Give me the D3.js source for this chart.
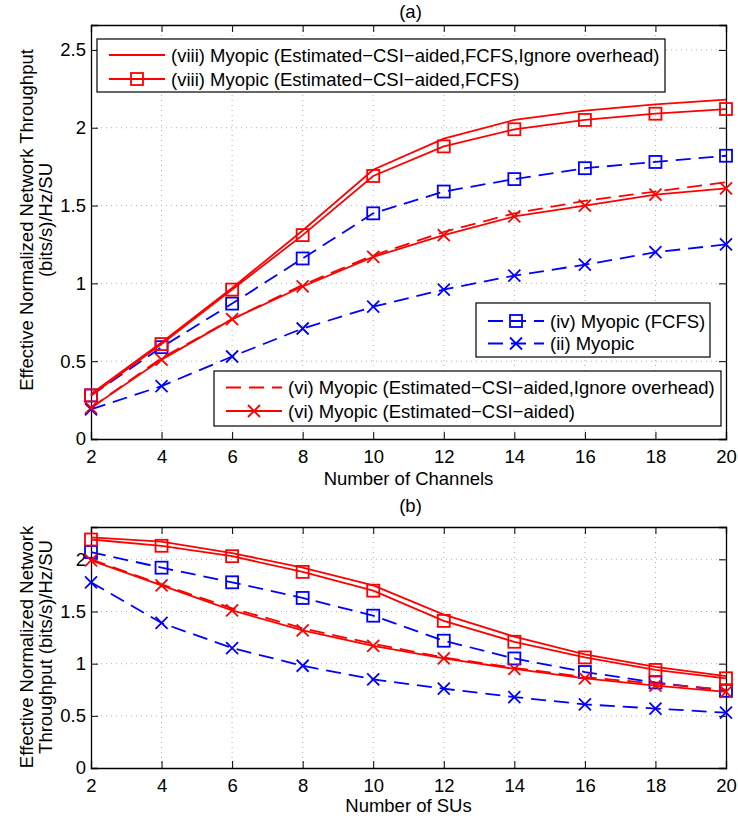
<!DOCTYPE html>
<html><head><meta charset="utf-8">
<script src="https://cdn.jsdelivr.net/npm/d3@7"></script>
<style>
body{margin:0;background:#fff}
text{font-family:"Liberation Sans",Arial,Helvetica,sans-serif;fill:#000}
</style></head>
<body><svg id="c" width="738" height="822"></svg>
<script>
// ---------- data ----------
const channels = [2,4,6,8,10,12,14,16,18,20];
const sus      = [2,4,6,8,10,12,14,16,18,20];
const xTickLabels = [2,4,6,8,10,12,14,16,18,20];
const yTicksA = [0,0.5,1,1.5,2,2.5];
const yTicksB = [0,0.5,1,1.5,2];

// panel (a): vs number of channels
const a_viiiIgnore = [0.29,0.62,0.97,1.34,1.73,1.93,2.05,2.11,2.15,2.18];
const a_viiiFCFS   = [0.28,0.61,0.96,1.31,1.69,1.88,1.99,2.05,2.09,2.12];
const a_ivFCFS     = [0.28,0.59,0.87,1.16,1.45,1.59,1.67,1.74,1.78,1.82];
const a_viIgnore   = [0.20,0.52,0.77,0.99,1.18,1.33,1.45,1.53,1.59,1.65];
const a_vi         = [0.20,0.51,0.77,0.98,1.17,1.31,1.43,1.50,1.57,1.61];
const a_ii         = [0.19,0.34,0.53,0.71,0.85,0.96,1.05,1.12,1.20,1.25];

// panel (b): vs number of SUs
const b_viiiIgnore = [2.21,2.17,2.06,1.92,1.75,1.47,1.26,1.09,0.97,0.88];
const b_viiiFCFS   = [2.19,2.13,2.03,1.88,1.70,1.41,1.21,1.06,0.94,0.86];
const b_ivFCFS     = [2.07,1.92,1.78,1.63,1.46,1.22,1.05,0.92,0.82,0.74];
const b_viIgnore   = [2.00,1.76,1.53,1.34,1.19,1.06,0.96,0.87,0.81,0.75];
const b_vi         = [1.99,1.75,1.51,1.32,1.17,1.05,0.95,0.86,0.79,0.73];
const b_ii         = [1.78,1.39,1.15,0.98,0.85,0.76,0.68,0.61,0.57,0.53];

const names = {
  viiiIgnore: "(viii) Myopic (Estimated\u2212CSI\u2212aided,FCFS,Ignore overhead)",
  viiiFCFS:   "(viii) Myopic (Estimated\u2212CSI\u2212aided,FCFS)",
  ivFCFS:     "(iv) Myopic (FCFS)",
  ii:         "(ii) Myopic",
  viIgnore:   "(vi) Myopic (Estimated\u2212CSI\u2212aided,Ignore overhead)",
  vi:         "(vi) Myopic (Estimated\u2212CSI\u2212aided)"
};

// ---------- styles ----------
const RED = "#ff0000", BLUE = "#0000ff";
const DASH = "15,8";
const FS = 18.5;
const style = {
  ii:         {color:BLUE, dash:DASH, marker:"x"},
  ivFCFS:     {color:BLUE, dash:DASH, marker:"s"},
  viIgnore:   {color:RED,  dash:DASH, marker:null},
  vi:         {color:RED,  dash:null, marker:"x"},
  viiiIgnore: {color:RED,  dash:null, marker:null},
  viiiFCFS:   {color:RED,  dash:null, marker:"s"}
};
const drawOrder = ["ii","ivFCFS","viIgnore","vi","viiiIgnore","viiiFCFS"];

const svg = d3.select("#c");
const X0 = 91, X1 = 726;

function marker(g, type, cx, cy, color){
  if(type==="s"){
    g.append("rect").attr("x",cx-6).attr("y",cy-6).attr("width",12).attr("height",12)
     .attr("fill","none").attr("stroke",color).attr("stroke-width",1.8);
  } else if(type==="x"){
    const r=6;
    g.append("path").attr("d",`M${cx-r},${cy-r}L${cx+r},${cy+r}M${cx-r},${cy+r}L${cx+r},${cy-r}`)
     .attr("stroke",color).attr("stroke-width",1.8).attr("fill","none");
  }
}

function panel(cfg){
  const x = d3.scaleLinear().domain([2,20]).range([X0,X1]);
  const y = d3.scaleLinear().domain([0,cfg.yMax]).range([cfg.yBottom,cfg.yTop]);
  const g = svg.append("g");

  // grid
  const grid = g.append("g").attr("stroke","#b0b0b0").attr("stroke-width",1).attr("stroke-dasharray","1,4");
  xTickLabels.slice(1,-1).forEach(v=>{
    grid.append("line").attr("x1",x(v)).attr("x2",x(v)).attr("y1",cfg.yTop).attr("y2",cfg.yBottom);
  });
  cfg.yTicks.slice(1).forEach(v=>{
    grid.append("line").attr("x1",X0).attr("x2",X1).attr("y1",y(v)).attr("y2",y(v));
  });

  // axes (box with inward ticks)
  const axB = d3.axisBottom(x).tickValues(xTickLabels).tickSize(-7).tickPadding(11).tickFormat(d3.format("d"));
  const axT = d3.axisTop(x).tickValues(xTickLabels).tickSize(-7).tickFormat("");
  const axL = d3.axisLeft(y).tickValues(cfg.yTicks).tickSize(-7).tickPadding(5).tickFormat(d=>d);
  const axR = d3.axisRight(y).tickValues(cfg.yTicks).tickSize(-7).tickFormat("");
  const styleAxis = sel=>{
    sel.select(".domain").attr("stroke","#000").attr("stroke-width",1.3);
    sel.selectAll(".tick line").attr("stroke","#000").attr("stroke-width",1);
    sel.selectAll("text").attr("font-size",FS).attr("font-family","'Liberation Sans',Arial,sans-serif").attr("fill","#000");
  };
  g.append("g").attr("transform",`translate(0,${cfg.yBottom})`).call(axB).call(styleAxis);
  g.append("g").attr("transform",`translate(0,${cfg.yTop})`).call(axT).call(styleAxis);
  g.append("g").attr("transform",`translate(${X0},0)`).call(axL).call(styleAxis);
  g.append("g").attr("transform",`translate(${X1},0)`).call(axR).call(styleAxis);

  // series
  const line = d3.line().x((d,i)=>x(cfg.xs[i])).y(d=>y(d));
  drawOrder.forEach(k=>{
    const s = style[k], vals = cfg.data[k];
    g.append("path").attr("d",line(vals)).attr("fill","none").attr("stroke",s.color)
     .attr("stroke-width",1.8).attr("stroke-dasharray",s.dash);
    if(s.marker) vals.forEach((v,i)=>marker(g,s.marker,x(cfg.xs[i]),y(v),s.color));
  });

  // titles
  g.append("text").attr("x",(X0+X1)/2+2).attr("y",cfg.titleY).attr("text-anchor","middle").attr("font-size",FS).text(cfg.title);
  g.append("text").attr("x",(X0+X1)/2).attr("y",cfg.yBottom+cfg.xLabelOff).attr("text-anchor","middle").attr("font-size",FS).text(cfg.xLabel);
  const cy = cfg.yLabelCY;
  cfg.yLabel.forEach((t,i)=>{
    g.append("text").attr("transform",`translate(${33+i*19},${cy}) rotate(-90)`)
     .attr("text-anchor","middle").attr("font-size",FS).text(t);
  });

  // legends
  cfg.legends.forEach(L=>{
    const lg = g.append("g");
    lg.append("rect").attr("x",L.x).attr("y",L.y).attr("width",L.w).attr("height",L.h)
      .attr("fill","#fff").attr("stroke","#000").attr("stroke-width",1.2);
    L.keys.forEach((k,i)=>{
      const s = style[k];
      const ey = L.y + L.firstY + i*L.step;
      const lx0 = L.x + 12, lx1 = L.x + 68;
      lg.append("line").attr("x1",lx0).attr("x2",lx1).attr("y1",ey).attr("y2",ey)
        .attr("stroke",s.color).attr("stroke-width",1.8).attr("stroke-dasharray",s.dash);
      if(s.marker) marker(lg,s.marker,(lx0+lx1)/2,ey,s.color);
      lg.append("text").attr("x",L.x+74).attr("y",ey+6.5).attr("font-size",FS).text(names[k]);
    });
  });
}

panel({
  xs: channels, yMax: 2.66, yTop: 25, yBottom: 439, yTicks: yTicksA,
  data:{viiiIgnore:a_viiiIgnore, viiiFCFS:a_viiiFCFS, ivFCFS:a_ivFCFS, viIgnore:a_viIgnore, vi:a_vi, ii:a_ii},
  title:"(a)", titleY: 18, xLabel:"Number of Channels", xLabelOff: 46,
  yLabel:["Effective Normalized Network Throughput","(bits/s)/Hz/SU"], yLabelCY: 220,
  legends:[
    {x:97,y:39,w:568,h:53,firstY:16,step:24,keys:["viiiIgnore","viiiFCFS"]},
    {x:476,y:303,w:234,h:54,firstY:18,step:22.5,keys:["ivFCFS","ii"]},
    {x:214,y:371,w:507,h:55,firstY:16.5,step:23.5,keys:["viIgnore","vi"]}
  ]
});

panel({
  xs: sus, yMax: 2.31, yTop: 527, yBottom: 768, yTicks: yTicksB,
  data:{viiiIgnore:b_viiiIgnore, viiiFCFS:b_viiiFCFS, ivFCFS:b_ivFCFS, viIgnore:b_viIgnore, vi:b_vi, ii:b_ii},
  title:"(b)", titleY: 512, xLabel:"Number of SUs", xLabelOff: 44,
  yLabel:["Effective Normalized Network","Throughput (bits/s)/Hz/SU"], yLabelCY: 647,
  legends:[]
});
</script></body></html>
